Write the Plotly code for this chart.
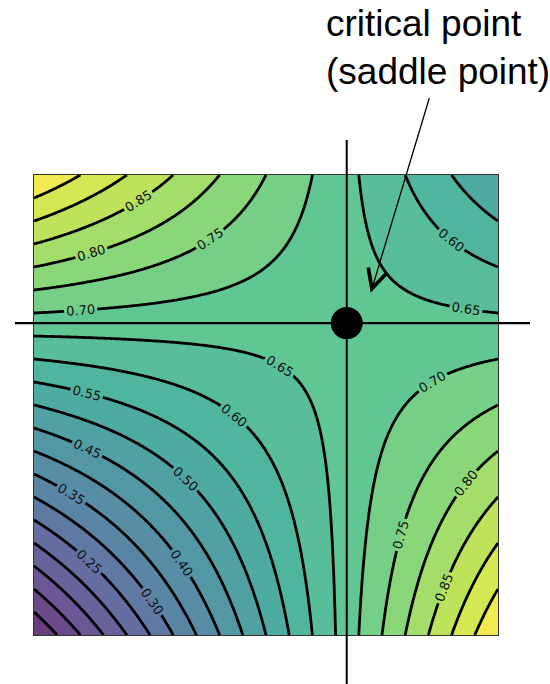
import numpy as np
import plotly.graph_objects as go
from plotly.colors import sample_colorscale

# ---- data ----
# surface values at the four corners of the unit square (bilinear saddle surface)
corner_x = [0.0, 1.0]
corner_y = [0.0, 1.0]
z_bottom = [0.0, 1.0]    # f(0,0), f(1,0)
z_top = [1.0, 0.5]       # f(0,1), f(1,1)
levels_start, levels_end, levels_step = 0.05, 0.95, 0.05
# location of the marked critical point
crit_x = [0.674]
crit_y = [0.678]
annotation_text = "critical point<br>(saddle point)"

# ---- build the grid the contour trace needs (bilinear surface through the corners) ----
n = 241
gx = np.linspace(corner_x[0], corner_x[1], n)
gy = np.linspace(corner_y[0], corner_y[1], n)
u = (gx - corner_x[0]) / (corner_x[1] - corner_x[0])
v = (gy - corner_y[0]) / (corner_y[1] - corner_y[0])
U, V = np.meshgrid(u, v)
Z = (z_bottom[0] * (1 - U) * (1 - V) + z_bottom[1] * U * (1 - V)
     + z_top[0] * (1 - U) * V + z_top[1] * U * V)

# viridis band colours, lightened (alpha over white)
alpha = 0.8
nb = int(round((levels_end - levels_start) / levels_step)) + 2
mids = [levels_start - levels_step / 2 + i * levels_step for i in range(nb)]
raw = sample_colorscale("Viridis", [m for m in mids])
def blend(c):
    r, g, b = [float(t) for t in c[c.index("(") + 1:-1].split(",")]
    return "rgb(%d,%d,%d)" % tuple(round(alpha * t + (1 - alpha) * 255) for t in (r, g, b))
colorscale = [[i / (nb - 1), blend(c)] for i, c in enumerate(raw)]

fig = go.Figure()
fig.add_trace(go.Contour(
    x=gx, y=gy, z=Z,
    colorscale=colorscale,
    showscale=False,
    contours=dict(start=levels_start, end=levels_end, size=levels_step,
                  coloring="fill", showlabels=True,
                  labelfont=dict(family="DejaVu Sans", size=13, color="#111"),
                  labelformat=".2f"),
    line=dict(color="black", width=2.8),
    hoverinfo="skip",
))

fig.add_trace(go.Scatter(
    x=crit_x, y=crit_y, mode="markers",
    marker=dict(size=32, color="black"),
    cliponaxis=False, showlegend=False, hoverinfo="skip",
))

xr = [corner_x[0], corner_x[1]]
yr = [corner_y[0], corner_y[1]]
px = (crit_x[0] - xr[0]) / (xr[1] - xr[0])
py = (crit_y[0] - yr[0]) / (yr[1] - yr[0])
fig.add_shape(type="line", xref="paper", yref="paper",
              x0=-0.041, x1=1.069, y0=py, y1=py,
              line=dict(color="black", width=2.2))
fig.add_shape(type="line", xref="paper", yref="paper",
              x0=px, x1=px, y0=1.076, y1=-0.115,
              line=dict(color="black", width=2))

fig.add_annotation(text=annotation_text, xref="paper", yref="paper",
                   x=0.625, y=1.378, xanchor="left", yanchor="top", align="left",
                   showarrow=False,
                   font=dict(family="Liberation Sans, Arial", size=37, color="black"))
fig.add_annotation(text="", x=0.7257, y=0.744, xref="x", yref="y",
                   ax=59, ay=-196, showarrow=True, arrowhead=5,
                   arrowsize=2.9, arrowwidth=1.3, arrowcolor="black", standoff=0)

fig.update_xaxes(range=xr, showticklabels=False, ticks="", showgrid=False, zeroline=False,
                 showline=True, mirror=True, linecolor="#333", linewidth=1)
fig.update_yaxes(range=yr, showticklabels=False, ticks="", showgrid=False, zeroline=False,
                 showline=True, mirror=True, linecolor="#333", linewidth=1)
fig.update_layout(width=550, height=684,
                  margin=dict(l=34, r=52, t=175, b=49, autoexpand=False),
                  paper_bgcolor="white", plot_bgcolor="white", showlegend=False)

fig.write_html("out.html", config={"displayModeBar": False},
               post_script="document.body.style.margin='0';document.body.style.overflow='hidden';")
